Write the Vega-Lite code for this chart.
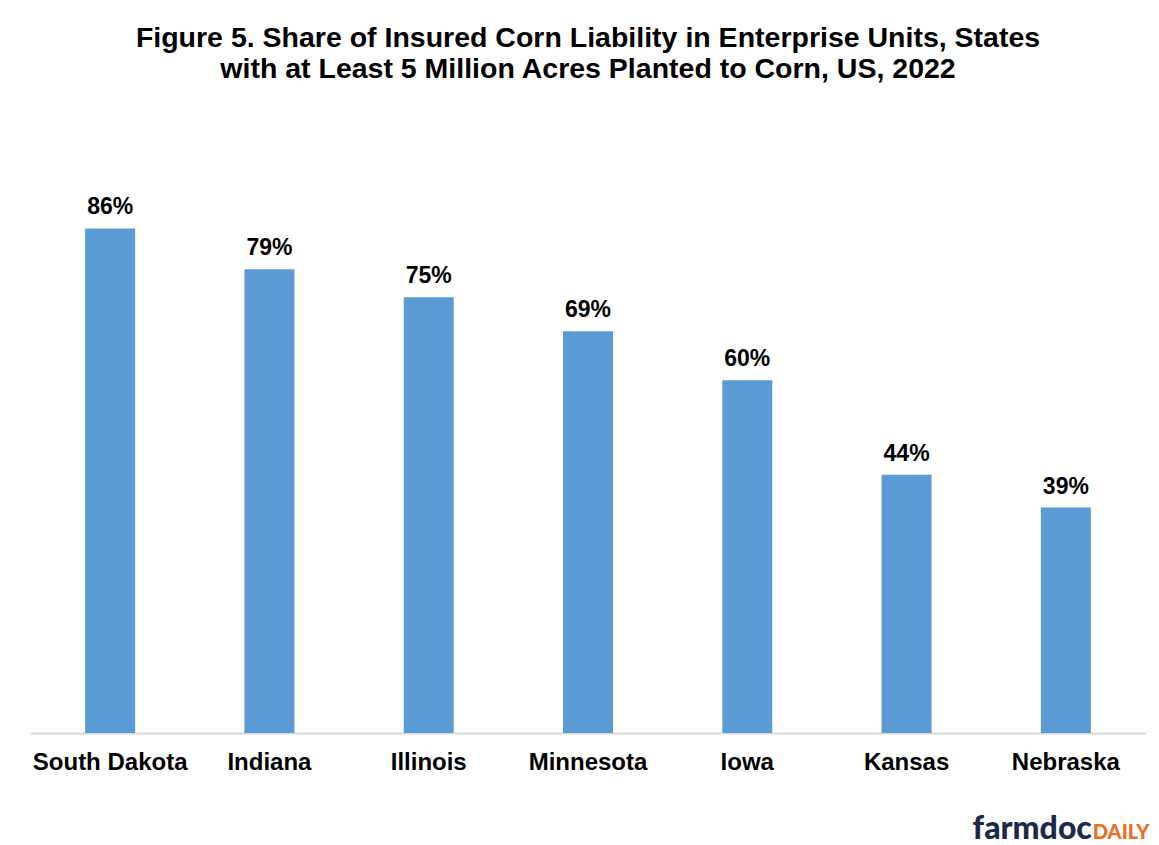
{
  "$schema": "https://vega.github.io/schema/vega-lite/v6.json",
  "autosize": {"type": "none"},
  "width": 1115,
  "height": 584,
  "padding": {"left": 30.5, "top": 149, "right": 13.5, "bottom": 112},
  "background": "white",
  "config": {
    "view": {"stroke": null},
    "font": "Liberation Sans"
  },
  "title": {
    "text": ["Figure 5. Share of Insured Corn Liability in Enterprise Units, States", "with at Least 5 Million Acres Planted to Corn, US, 2022"],
    "font": "Liberation Sans",
    "fontSize": 28.5,
    "fontWeight": "bold",
    "color": "#000000",
    "lineHeight": 31,
    "anchor": "middle",
    "offset": 66
  },
  "data": {
    "values": [
      {"state": "South Dakota", "share": 0.864},
      {"state": "Indiana", "share": 0.794},
      {"state": "Illinois", "share": 0.746},
      {"state": "Minnesota", "share": 0.688},
      {"state": "Iowa", "share": 0.604},
      {"state": "Kansas", "share": 0.442},
      {"state": "Nebraska", "share": 0.386}
    ]
  },
  "encoding": {
    "x": {
      "field": "state",
      "type": "nominal",
      "sort": null,
      "scale": {"paddingInner": 0.686, "paddingOuter": 0.343},
      "axis": {
        "title": null,
        "labelAngle": 0,
        "labelFont": "Liberation Sans",
        "labelFontSize": 24,
        "labelFontWeight": "bold",
        "labelColor": "#000000",
        "labelPadding": 17,
        "ticks": false,
        "domainColor": "#d9d9d9",
        "domainWidth": 2,
        "labelOverlap": false
      }
    },
    "y": {
      "field": "share",
      "type": "quantitative",
      "scale": {"domain": [0, 1]},
      "axis": null
    }
  },
  "layer": [
    {
      "mark": {"type": "bar", "color": "#5b9bd5"}
    },
    {
      "mark": {"type": "text", "dy": -9, "baseline": "bottom", "font": "Liberation Sans", "fontSize": 23, "fontWeight": "bold", "color": "#000000"},
      "encoding": {"text": {"field": "share", "type": "quantitative", "format": ".0%"}}
    },
    {
      "data": {"values": [{"t": "farmdoc", "s": "Nebraska", "v": 0}]},
      "mark": {"type": "text", "align": "right", "baseline": "alphabetic", "dx": 26, "dy": 106, "font": "Lato", "fontSize": 32, "fontWeight": 900, "color": "#1b2a4a"},
      "encoding": {"x": {"field": "s", "type": "nominal"}, "y": {"field": "v", "type": "quantitative"}, "text": {"field": "t"}}
    },
    {
      "data": {"values": [{"t": "DAILY", "s": "Nebraska", "v": 0}]},
      "mark": {"type": "text", "align": "left", "baseline": "alphabetic", "dx": 27, "dy": 106, "font": "Lato", "fontSize": 20, "fontWeight": 900, "color": "#f26b21"},
      "encoding": {"x": {"field": "s", "type": "nominal"}, "y": {"field": "v", "type": "quantitative"}, "text": {"field": "t"}}
    }
  ]
}
